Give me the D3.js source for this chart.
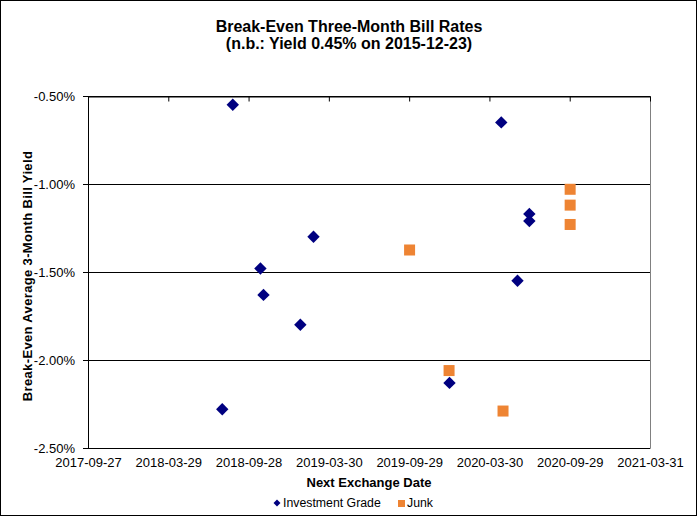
<!DOCTYPE html>
<html><head><meta charset="utf-8">
<script src="https://cdn.jsdelivr.net/npm/d3@7"></script>
<style>body{margin:0;background:#fff}svg{display:block;font-family:Arial,"Liberation Sans",sans-serif}</style>
</head><body><svg id="c" width="698" height="517"></svg>
<script>
const titleLines = ["Break-Even Three-Month Bill Rates", "(n.b.: Yield 0.45% on 2015-12-23)"];
const xTitle = "Next Exchange Date";
const yTitle = "Break-Even Average 3-Month Bill Yield";
const xTickDates = ["2017-09-27","2018-03-29","2018-09-28","2019-03-30","2019-09-29","2020-03-30","2020-09-29","2021-03-31"];
const yTicks = [-0.5, -1.0, -1.5, -2.0, -2.5];
const seriesNames = ["Investment Grade", "Junk"];
const igDates = ["2018-08-23","2018-07-30","2018-10-25","2018-11-01","2019-01-24","2019-02-23","2019-12-30","2020-04-26","2020-06-02","2020-06-29","2020-06-29"];
const igValues = [-0.55, -2.28, -1.48, -1.63, -1.80, -1.30, -2.13, -0.65, -1.55, -1.17, -1.21];
const junkDates = ["2019-09-30","2019-12-29","2020-04-30","2020-09-30","2020-09-30","2020-09-30"];
const junkValues = [-1.375, -2.06, -2.29, -1.03, -1.12, -1.23];

const parse = d3.utcParse("%Y-%m-%d");
const svg = d3.select("#c");
const W = 698, H = 517;
const m = {l: 88, r: 650, t: 96, b: 448};

svg.append("rect").attr("x",0.5).attr("y",0.5).attr("width",W-2).attr("height",H-2)
  .attr("fill","#fff").attr("stroke","#000").attr("stroke-width",1);

const x = d3.scaleUtc().domain([parse(xTickDates[0]), parse(xTickDates[xTickDates.length-1])]).range([m.l, m.r]);
const y = d3.scaleLinear().domain([-2.5, -0.5]).range([m.b, m.t]);

// plot border (gray right & bottom)
svg.append("path").attr("d", `M${m.r+0.5},${m.t}V${m.b+0.5}H${m.l}`).attr("fill","none").attr("stroke","#808080");

// y axis with gridlines
const yAxis = d3.axisLeft(y).tickValues(yTicks).tickSize(-(m.r - m.l)).tickSizeOuter(0)
  .tickPadding(13).tickFormat(d => d.toFixed(2) + "%");
const gy = svg.append("g").attr("transform", `translate(${m.l},0)`).call(yAxis);
gy.select(".domain").remove();
gy.selectAll(".tick line").attr("x1", -5).attr("stroke","#000");
gy.selectAll(".tick text").attr("font-size", 13).attr("fill","#000").attr("dy","0.35em");
svg.append("line").attr("x1", m.l+0.5).attr("x2", m.l+0.5).attr("y1", m.t).attr("y2", m.b).attr("stroke","#000");

// x axis line at top with inward ticks
const xAxisTop = d3.axisBottom(x).tickValues(xTickDates.map(parse)).tickSize(5).tickSizeOuter(0).tickFormat("");
const gxt = svg.append("g").attr("transform", `translate(0,${m.t+0.5})`).call(xAxisTop);
gxt.select(".domain").attr("stroke","#000");
gxt.selectAll(".tick line").attr("stroke","#000");

// x tick labels at bottom
const xAxisBottom = d3.axisBottom(x).tickValues(xTickDates.map(parse)).tickSize(0).tickSizeOuter(0)
  .tickPadding(10).tickFormat(d3.utcFormat("%Y-%m-%d"));
const gxb = svg.append("g").attr("transform", `translate(0,${m.b})`).call(xAxisBottom);
gxb.select(".domain").remove();
gxb.selectAll(".tick text").attr("font-size", 13).attr("fill","#000");

// titles
svg.selectAll(".title").data(titleLines).join("text").attr("class","title")
  .attr("x", W/2).attr("y", (d,i) => 32 + i*17).attr("text-anchor","middle")
  .attr("font-size", 16).attr("font-weight","bold").text(d => d);
svg.append("text").attr("x", (m.l+m.r)/2).attr("y", 487).attr("text-anchor","middle")
  .attr("font-size", 13).attr("font-weight","bold").text(xTitle);
svg.append("text").attr("transform", `translate(31.5,276) rotate(-90)`).attr("text-anchor","middle")
  .attr("font-size", 13).attr("font-weight","bold").attr("letter-spacing", 0.35).text(yTitle);

// markers
const igColor = "#000080", junkColor = "#EE8433";
const diamond = s => `M0,${-s}L${s},0L0,${s}L${-s},0Z`;
svg.append("g").selectAll("path").data(igDates.map((d,i)=>({d:parse(d), v:igValues[i]}))).join("path")
  .attr("d", diamond(6.2)).attr("fill", igColor)
  .attr("transform", p => `translate(${x(p.d)},${y(p.v)})`);
svg.append("g").selectAll("rect").data(junkDates.map((d,i)=>({d:parse(d), v:junkValues[i]}))).join("rect")
  .attr("x", p => x(p.d) - 5.5).attr("y", p => y(p.v) - 5.5).attr("width", 11).attr("height", 11)
  .attr("fill", junkColor);

// legend
const lg = svg.append("g");
lg.append("path").attr("d", diamond(3.5)).attr("fill", igColor).attr("transform","translate(277,503)");
lg.append("text").attr("x", 283).attr("y", 507).attr("font-size", 12.3).text(seriesNames[0]);
lg.append("rect").attr("x", 398).attr("y", 500).attr("width", 7).attr("height", 7).attr("fill", junkColor);
lg.append("text").attr("x", 407).attr("y", 507).attr("font-size", 12.3).text(seriesNames[1]);
</script></body></html>
